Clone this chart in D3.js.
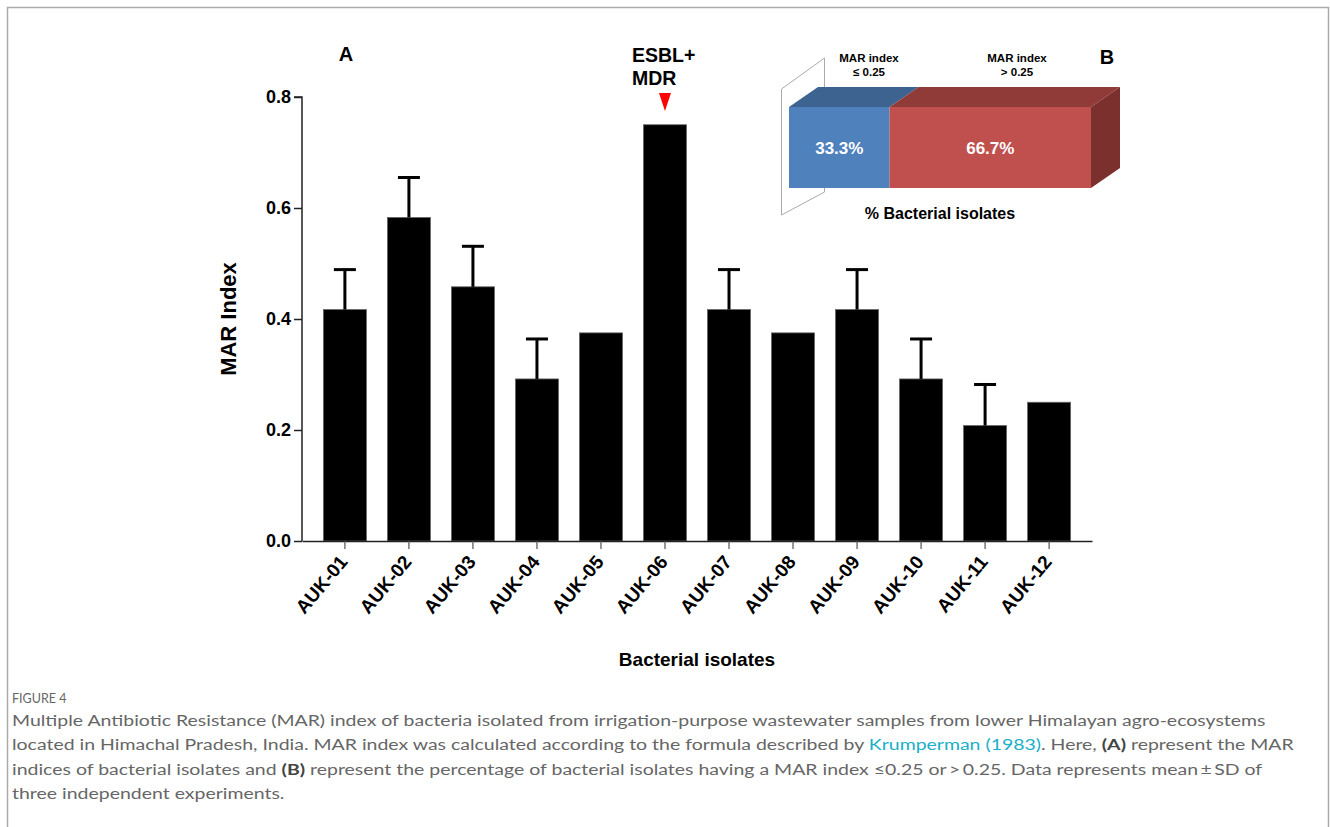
<!DOCTYPE html>
<html>
<head>
<meta charset="utf-8">
<script src="https://cdn.jsdelivr.net/npm/d3@7"></script>
<style>
  body { margin: 0; background: #fff; }
  svg text { font-family: Arial, "Liberation Sans", sans-serif; }
</style>
</head>
<body>
<div id="chart"></div>
<script>
// isolates and MAR index (mean, SD)
const isolates = ["AUK-01", "AUK-02", "AUK-03", "AUK-04", "AUK-05", "AUK-06",
                  "AUK-07", "AUK-08", "AUK-09", "AUK-10", "AUK-11", "AUK-12"];
const marMean = [0.417, 0.583, 0.458, 0.292, 0.375, 0.75, 0.417, 0.375, 0.417, 0.292, 0.208, 0.25];
const marSD   = [0.072, 0.072, 0.073, 0.072, 0, 0, 0.072, 0, 0.072, 0.072, 0.074, 0];
const yTicks = [0, 0.2, 0.4, 0.6, 0.8];

// panel B
const groupLabels = [["MAR index", "\u2264 0.25"], ["MAR index", "> 0.25"]];
const groupPct = [33.3, 66.7];
const groupColors = ["#4f81bd", "#c0504d"];
const groupTops = ["#3d6391", "#913b39"];

const captionLines = [
  "Multiple Antibiotic Resistance (MAR) index of bacteria isolated from irrigation-purpose wastewater samples from lower Himalayan agro-ecosystems",
  "located in Himachal Pradesh, India. MAR index was calculated according to the formula described by |Krumperman (1983)|. Here, *(A)* represent the MAR",
  "indices of bacterial isolates and *(B)* represent the percentage of bacterial isolates having a MAR index \u22640.25 or\u2009>\u20090.25. Data represents mean\u2009\u00b1\u2009SD of",
  "three independent experiments."
];

const W = 1330, H = 827;
const svg = d3.select("#chart").append("svg").attr("width", W).attr("height", H);
svg.append("rect").attr("width", W).attr("height", H).attr("fill", "#fff");

// frame
svg.append("path")
  .attr("d", `M7.5,${H} V7.5 H1328.5 V${H}`)
  .attr("fill", "none").attr("stroke", "#aaa").attr("stroke-width", 1.5);

// ---- panel A ----
const x = d3.scaleBand().domain(isolates).range([302, 1092])
  .paddingInner(0.328).paddingOuter(0.334);
const y = d3.scaleLinear().domain([0, 0.8]).range([541, 97]);

const bars = svg.append("g");
bars.selectAll("rect").data(isolates).enter().append("rect")
  .attr("x", d => x(d))
  .attr("y", (d, i) => y(marMean[i]))
  .attr("width", x.bandwidth())
  .attr("height", (d, i) => y(0) - y(marMean[i]))
  .attr("fill", "#000").attr("stroke", "#666").attr("stroke-width", 0.8);

// upper error bars only
const err = svg.append("g").attr("stroke", "#000").attr("stroke-width", 3);
isolates.forEach((d, i) => {
  if (marSD[i] <= 0) return;
  const cx = x(d) + x.bandwidth() / 2;
  const top = y(marMean[i] + marSD[i]);
  err.append("line").attr("x1", cx).attr("x2", cx).attr("y1", y(marMean[i])).attr("y2", top);
  err.append("line").attr("x1", cx - 11).attr("x2", cx + 11).attr("y1", top).attr("y2", top);
});

// axes
const yAxis = svg.append("g").attr("transform", "translate(302,0)")
  .call(d3.axisLeft(y).tickValues(yTicks).tickFormat(d3.format(".1f")).tickSize(8).tickPadding(3));
yAxis.select(".domain").attr("d", `M-8,${y(0.8)}H0V${y(0)}`).attr("stroke", "#222").attr("stroke-width", 1.5);
yAxis.selectAll(".tick line").attr("stroke", "#222").attr("stroke-width", 1.5);
yAxis.selectAll(".tick text").attr("font-size", 18).attr("font-weight", "bold").attr("fill", "#000")
  .attr("font-family", "Arial, 'Liberation Sans', sans-serif");

const xAxis = svg.append("g").attr("transform", `translate(0,${y(0)})`)
  .call(d3.axisBottom(x).tickSize(8).tickSizeOuter(0));
xAxis.select(".domain").attr("stroke", "#222").attr("stroke-width", 1.5);
xAxis.selectAll(".tick line").attr("stroke", "#555").attr("stroke-width", 1.2);
xAxis.selectAll(".tick text")
  .attr("font-size", 19).attr("font-weight", "bold").attr("fill", "#000")
  .attr("font-family", "Arial, 'Liberation Sans', sans-serif")
  .attr("text-anchor", "end")
  .attr("transform", "translate(-5,14) rotate(-50)")
  .attr("dy", "0.6em").attr("y", 0);

svg.append("text").attr("x", 697).attr("y", 666).attr("text-anchor", "middle")
  .attr("font-size", 19).attr("font-weight", "bold").text("Bacterial isolates");
svg.append("text").attr("transform", "translate(236,319) rotate(-90)").attr("text-anchor", "middle")
  .attr("font-size", 22).attr("font-weight", "bold").text("MAR Index");
svg.append("text").attr("x", 346).attr("y", 61).attr("text-anchor", "middle")
  .attr("font-size", 20).attr("font-weight", "bold").text("A");

// ESBL+ MDR annotation
const a6 = x("AUK-06") + x.bandwidth() / 2;
svg.append("text").attr("x", 632).attr("y", 62).attr("font-size", 19.5).attr("font-weight", "bold").text("ESBL+");
svg.append("text").attr("x", 632).attr("y", 85).attr("font-size", 19.5).attr("font-weight", "bold").text("MDR");
svg.append("path").attr("d", `M${a6 - 6},93 L${a6 + 6},93 L${a6},111 Z`).attr("fill", "#f00");

// ---- panel B ----
const px = d3.scaleLinear().domain([0, 100]).range([789, 1091]);
const fTop = 107, fBot = 188, dx = 29, dy = -20;

// back wall
svg.append("path")
  .attr("d", `M781.5,89 L824.5,58 L824.5,192 L781.5,215 Z`)
  .attr("fill", "none").attr("stroke", "#aaa").attr("stroke-width", 1);

let acc = 0;
groupPct.forEach((p, i) => {
  const x0 = px(acc), x1 = px(acc + p);
  svg.append("path")
    .attr("d", `M${x0},${fTop} L${x0 + dx},${fTop + dy} L${x1 + dx},${fTop + dy} L${x1},${fTop} Z`)
    .attr("fill", groupTops[i]);
  svg.append("rect").attr("x", x0).attr("y", fTop).attr("width", x1 - x0).attr("height", fBot - fTop)
    .attr("fill", groupColors[i]);
  svg.append("text").attr("x", (x0 + x1) / 2).attr("y", 154).attr("text-anchor", "middle")
    .attr("font-size", 17).attr("font-weight", "bold").attr("fill", "#fff").text(p.toFixed(1) + "%");
  acc += p;
});
const xr = px(100);
svg.append("path")
  .attr("d", `M${xr},${fTop} L${xr + dx},${fTop + dy} L${xr + dx},${fBot + dy} L${xr},${fBot} Z`)
  .attr("fill", "#7b302e");

[869, 1017].forEach((cx, i) => {
  groupLabels[i].forEach((t, j) => {
    svg.append("text").attr("x", cx).attr("y", 62 + j * 14).attr("text-anchor", "middle")
      .attr("font-size", 11.5).attr("font-weight", "bold").text(t);
  });
});
svg.append("text").attr("x", 940).attr("y", 219).attr("text-anchor", "middle")
  .attr("font-size", 16).attr("font-weight", "bold").text("% Bacterial isolates");
svg.append("text").attr("x", 1107).attr("y", 64).attr("text-anchor", "middle")
  .attr("font-size", 20).attr("font-weight", "bold").text("B");

// ---- caption ----
const cap = svg.append("g");
cap.append("text").attr("x", 12).attr("y", 703).attr("font-size", 12.5).attr("fill", "#666")
  .style("font-family", "Lato, sans-serif").text("FIGURE 4");
const capLines = [];
captionLines.forEach((line, i) => {
  const t = cap.append("text").attr("x", 12).attr("y", 726 + i * 24.5)
    .attr("font-size", 16).attr("fill", "#666").style("font-family", "Lato, sans-serif");
  // split into plain / link (|...|) / bold (*...*) runs
  line.split(/(\|[^|]+\||\*[^*]+\*)/).filter(s => s.length).forEach(seg => {
    const ts = t.append("tspan");
    if (seg[0] === "|") ts.attr("fill", "#1ab0c8").text(seg.slice(1, -1));
    else if (seg[0] === "*") ts.attr("font-weight", "bold").attr("fill", "#444").text(seg.slice(1, -1));
    else ts.text(seg);
  });
  capLines.push(t);
});
// stretch horizontally so the first line spans like the original
const w0 = capLines[0].node().getComputedTextLength();
const k = 1254 / w0;
capLines.forEach(t => t.attr("transform", `translate(12,0) scale(${k},1) translate(-12,0)`));
</script>
</body>
</html>
